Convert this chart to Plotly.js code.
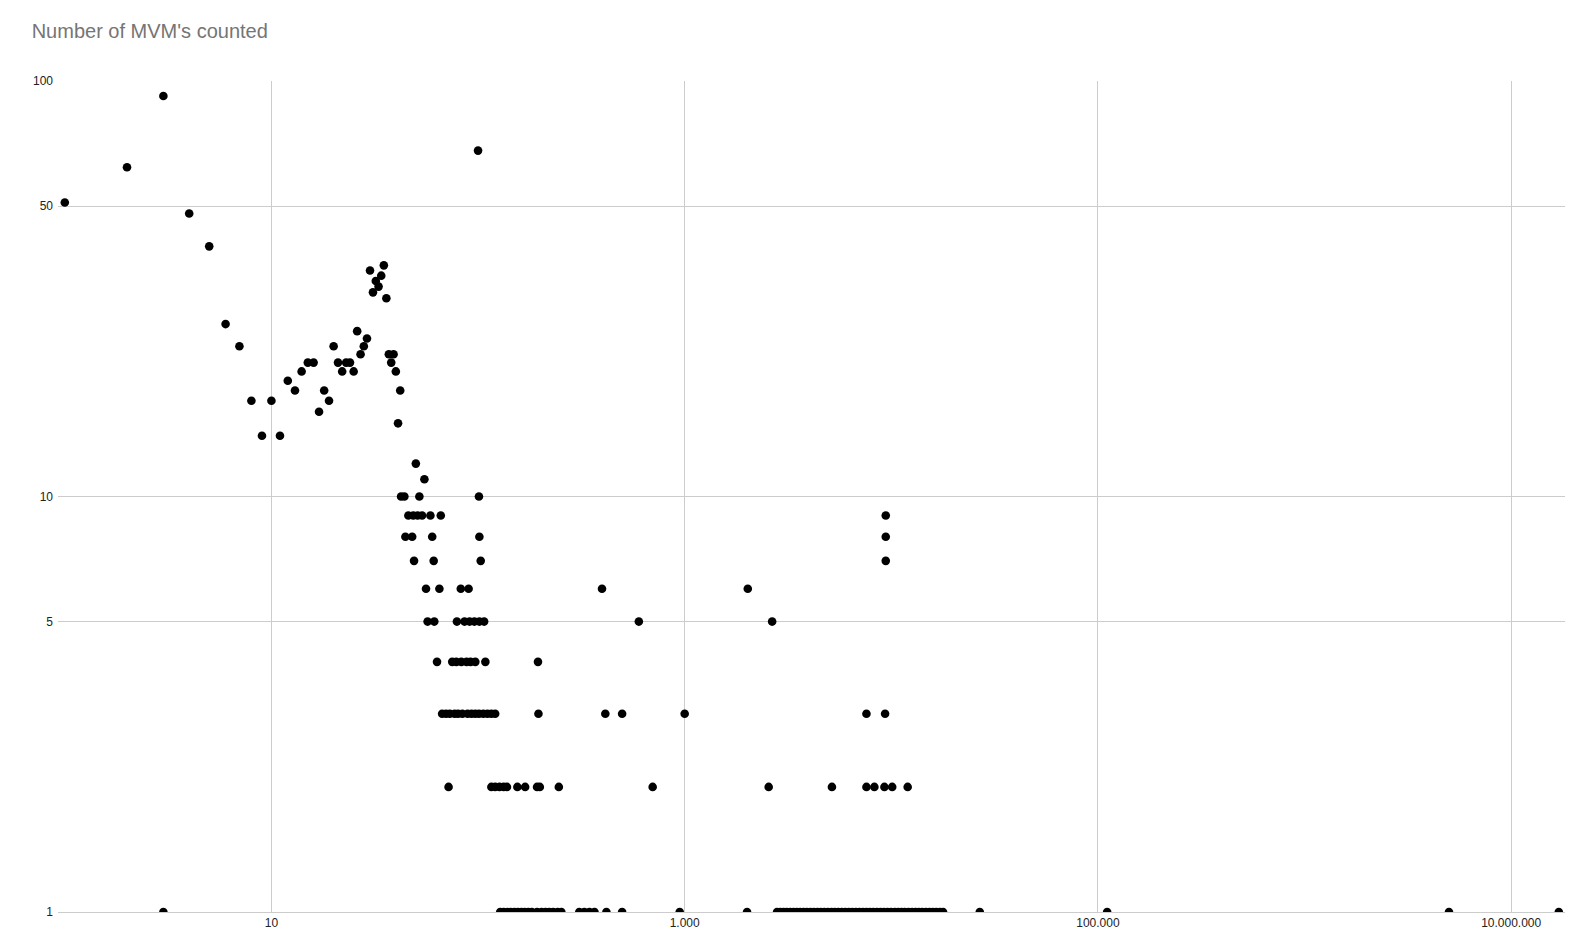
<!DOCTYPE html>
<html>
<head>
<meta charset="utf-8">
<script src="https://cdn.plot.ly/plotly-3.0.1.min.js"></script>
<style>
  html, body { margin: 0; padding: 0; background: #ffffff; }
  #chart { width: 1592px; height: 949px; }
</style>
</head>
<body>
<div id="chart"></div>
<script>
// Points with a count above 10 (x value, count)
const highX = [1, 2, 3, 4, 5, 6, 7, 8, 9, 10, 11, 12, 13, 14, 15, 16, 17, 18, 19, 20,
  21, 22, 23, 24, 25, 26, 27, 28, 29, 30, 31, 32, 33, 34, 35, 36, 37, 38, 39, 40,
  41, 42, 50, 55, 100];
const highY = [51, 62, 92, 48, 40, 26, 23, 17, 14, 17, 14, 19, 18, 20, 21, 21, 16, 18, 17, 23,
  21, 20, 21, 21, 20, 25, 22, 23, 24, 35, 31, 33, 32, 34, 36, 30, 22, 21, 22, 20,
  15, 18, 12, 11, 68];

// x values of the points at each low count
const xCount10 = [42.4, 44, 52, 101];
const xCount9 = [46, 48.6, 51, 53.6, 58.8, 66, 9400];
const xCount8 = [44.5, 48, 60, 101.5, 9400];
const xCount7 = [49, 61, 103, 9400];
const xCount6 = [56, 65, 82.5, 90, 398, 2020];
const xCount5 = [57, 61.4, 79, 86, 91, 96, 101.5, 107, 600, 2650];
const xCount4 = [63.3, 75, 78.5, 83, 88, 92, 97, 108.5, 195];
const xCount3 = [67, 70, 73, 77, 80, 84, 89, 93, 97, 101, 106, 111, 116, 121, 196, 413, 498,
  1000, 7580, 9330];
const xCount2 = [72, 116, 121, 127, 133, 138, 155, 169, 193, 199, 246, 700, 2550, 5160, 7580,
  8280, 9260, 10100, 12000];
const xCount1 = [3, 128, 133, 139, 144, 150, 156, 162, 168, 175, 182, 193, 203, 212, 221, 231,
  243, 253, 309, 327, 346, 366, 418, 498, 946, 2004,
  2800, 2900, 3010, 3120, 3240, 3360, 3490, 3620, 3760, 3900, 4060, 4220, 4390, 4560, 4740,
  4930, 5130, 5330, 5540, 5760, 5990, 6230, 6480, 6740, 7010, 7290, 7580, 7880, 8190, 8520,
  8860, 9210, 9580, 9960, 10400, 10800, 11200, 11600, 12100, 12600, 13100, 13600, 14100,
  14700, 15300, 15900, 16500, 17200, 17800,
  26800, 110800, 5000000, 17000000];

const lowLevels = [
  [10, xCount10], [9, xCount9], [8, xCount8], [7, xCount7], [6, xCount6],
  [5, xCount5], [4, xCount4], [3, xCount3], [2, xCount2], [1, xCount1]
];

const xTickVals = [10, 1000, 100000, 10000000];
const xTickText = ['10', '1.000', '100.000', '10.000.000'];
const yTickVals = [1, 5, 10, 50, 100];
const yTickText = ['1', '5', '10', '50', '100'];

const xs = highX.slice();
const ys = highY.slice();
lowLevels.forEach(([count, list]) => {
  list.forEach(v => { xs.push(v); ys.push(count); });
});

const trace = {
  type: 'scatter',
  mode: 'markers',
  x: xs,
  y: ys,
  marker: { color: '#000000', size: 8.6, symbol: 'circle', line: { width: 0 } },
  cliponaxis: true,
  hoverinfo: 'x+y'
};

const layout = {
  width: 1592,
  height: 949,
  paper_bgcolor: '#ffffff',
  plot_bgcolor: '#ffffff',
  margin: { l: 58, r: 27, t: 81, b: 37, pad: 0 },
  showlegend: false,
  font: { family: '"Liberation Sans", Arial, sans-serif', color: '#222222', size: 12 },
  title: {
    text: "Number of MVM's counted",
    font: { family: '"Liberation Sans", Arial, sans-serif', size: 20, color: '#757575' },
    x: 0.0199, xref: 'container', xanchor: 'left',
    y: 0.967, yref: 'container', yanchor: 'middle'
  },
  xaxis: {
    type: 'log',
    range: [-0.0329, 7.2604],
    tickvals: xTickVals,
    ticktext: xTickText,
    showgrid: true,
    gridcolor: '#cccccc',
    gridwidth: 1,
    zeroline: false,
    showline: true,
    linecolor: '#cccccc',
    linewidth: 1,
    ticks: '',
    tickfont: { family: '"Liberation Sans", Arial, sans-serif', size: 12, color: '#222222' },
    fixedrange: true
  },
  yaxis: {
    type: 'log',
    range: [0, 2],
    tickvals: yTickVals,
    ticktext: yTickText,
    showgrid: true,
    gridcolor: '#cccccc',
    gridwidth: 1,
    zeroline: false,
    showline: false,
    ticks: '',
    ticklabelstandoff: 4,
    tickfont: { family: '"Liberation Sans", Arial, sans-serif', size: 12, color: '#222222' },
    fixedrange: true
  }
};

Plotly.newPlot('chart', [trace], layout, { displayModeBar: false, staticPlot: true });
</script>
</body>
</html>
